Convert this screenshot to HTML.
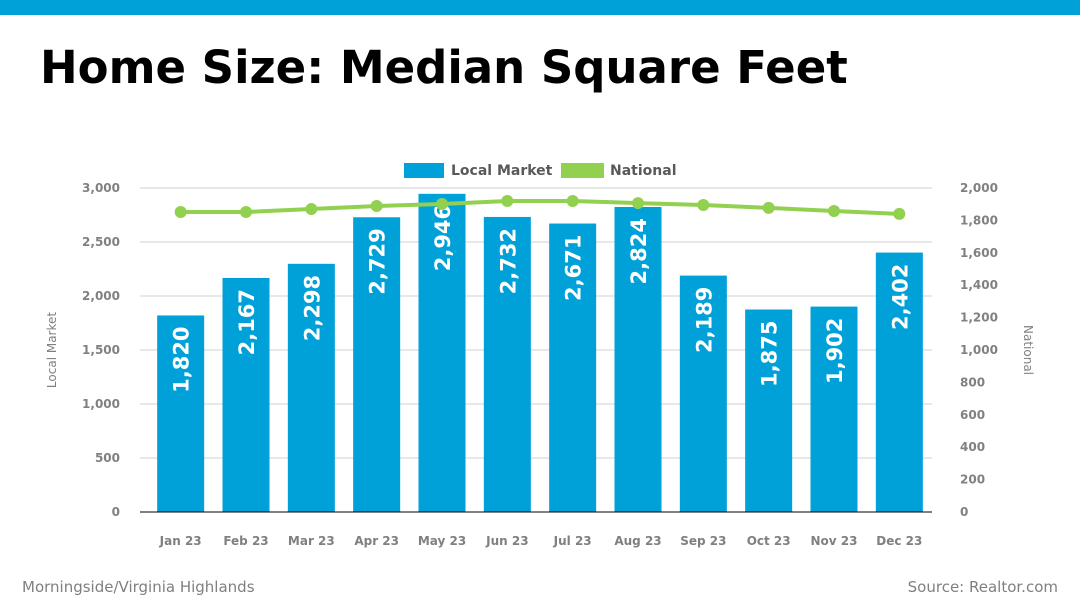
<!DOCTYPE html>
<html><head><meta charset="utf-8"><style>
body{margin:0;width:1080px;height:607px;background:#fff;overflow:hidden;font-family:"Liberation Sans","DejaVu Sans",sans-serif}
</style></head><body>
<div style="position:absolute;left:0;top:0;width:1080px;height:15px;background:#00a0d8"></div>
<div style="position:absolute;left:40px;top:41px;font-family:'DejaVu Sans',sans-serif;font-weight:bold;font-size:45px;color:#000">Home Size: Median Square Feet</div>
<div style="position:absolute;left:22px;top:578px;font-size:15px;color:#808080;font-family:'DejaVu Sans',sans-serif">Morningside/Virginia Highlands</div>
<div style="position:absolute;right:22px;top:578px;font-size:15px;color:#808080;font-family:'DejaVu Sans',sans-serif">Source: Realtor.com</div>
<svg id="c" width="1080" height="607" style="position:absolute;left:0;top:0" font-family="DejaVu Sans, sans-serif"></svg>
<script>
const categories=["Jan 23","Feb 23","Mar 23","Apr 23","May 23","Jun 23","Jul 23","Aug 23","Sep 23","Oct 23","Nov 23","Dec 23"];
const localValues=[1820,2167,2298,2729,2946,2732,2671,2824,2189,1875,1902,2402];
const nationalValues=[1852,1852,1870,1889,1901,1920,1920,1907,1895,1877,1858,1840];
const leftTicks=[0,500,1000,1500,2000,2500,3000];
const rightTicks=[0,200,400,600,800,1000,1200,1400,1600,1800,2000];
const svg=document.getElementById('c');const NS='http://www.w3.org/2000/svg';
function mk(t,a,p){const e=document.createElementNS(NS,t);for(const k in a)e.setAttribute(k,a[k]);(p||svg).appendChild(e);return e;}
const y0=512,yTop=188,x0=148,x1=932;
const yL=v=>y0-(v/3000)*(y0-yTop);
const yR=v=>y0-(v/2000)*(y0-yTop);
const band=(x1-x0)/categories.length;
const xc=i=>x0+band*(i+0.5);
leftTicks.forEach(t=>{
 if(t>0){const g=mk('line',{x1:140,x2:932,y1:yL(t),y2:yL(t),stroke:'#d0d0d0','stroke-width':1});
 
 }
 const l=mk('text',{x:120,y:yL(t)+4,'text-anchor':'end','font-size':12,'font-weight':'bold',fill:'#808080'});l.textContent=t.toLocaleString('en-US');
 
 
});
rightTicks.forEach(t=>{
 const l=mk('text',{x:960,y:yR(t)+4,'font-size':12,'font-weight':'bold',fill:'#808080'});l.textContent=t.toLocaleString('en-US');
 
 
});
categories.forEach((c,i)=>{
 const v=localValues[i];const top=yL(v);
 const b=mk('rect',{x:xc(i)-23.5,y:top,width:47,height:y0-top,fill:'#00a0d8'});
 
 
 const tx=mk('text',{x:0,y:0,transform:`translate(${xc(i)+8},${top+11}) rotate(-90)`,'text-anchor':'end','font-size':21,'font-weight':'bold',fill:'#fff'});
 tx.textContent=v.toLocaleString('en-US');
 
 
 const cl=mk('text',{x:xc(i),y:545,'text-anchor':'middle','font-size':12,'font-weight':'bold',fill:'#808080'});cl.textContent=c;
 
 
});
const ax=mk('line',{x1:140,x2:932,y1:y0,y2:y0,stroke:'#000','stroke-width':1});


const pts=nationalValues.map((v,i)=>xc(i)+','+yR(v)).join(' ');
const pl=mk('polyline',{points:pts,fill:'none',stroke:'#92d050','stroke-width':4});


nationalValues.forEach((v,i)=>{const d=mk('circle',{cx:xc(i),cy:yR(v),r:6,fill:'#92d050'});
 
 });
const yt=mk('text',{transform:'translate(56,350) rotate(-90)','text-anchor':'middle','font-size':12,fill:'#808080'});yt.textContent='Local Market';


const yt2=mk('text',{transform:'translate(1024,350) rotate(90)','text-anchor':'middle','font-size':12,fill:'#808080'});yt2.textContent='National';


const lg=mk('rect',{x:404,y:163,width:40,height:15,fill:'#00a0d8'});


const lt=mk('text',{x:451,y:175,'font-size':14,'font-weight':'bold',fill:'#595959'});lt.textContent='Local Market';


const lg2=mk('rect',{x:561,y:163,width:43,height:15,fill:'#92d050'});


const lt2=mk('text',{x:610,y:175,'font-size':14,'font-weight':'bold',fill:'#595959'});lt2.textContent='National';


</script>
</body></html>
